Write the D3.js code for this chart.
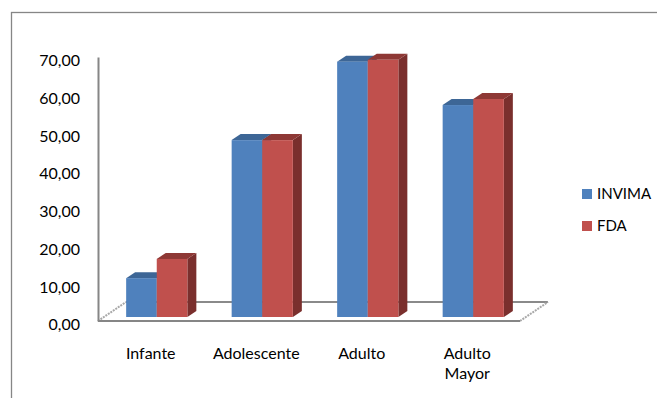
<!DOCTYPE html>
<html>
<head>
<meta charset="utf-8">
<script src="https://cdn.jsdelivr.net/npm/d3@7"></script>
<style>
  html, body { margin: 0; padding: 0; background: #fff; }
  svg { display: block; }
  text { font-family: Lato, "Noto Sans", sans-serif; fill: #000; }
</style>
</head>
<body>
<svg id="chart" width="657" height="398"></svg>
<script>
// ---- data ----
const categories = ["Infante", "Adolescente", "Adulto", "Adulto Mayor"];
const seriesNames = ["INVIMA", "FDA"];
const invima = [10.3, 46.9, 67.7, 56.2];
const fda = [15.4, 46.9, 68.2, 57.8];
const yTicks = [0, 10, 20, 30, 40, 50, 60, 70];

// ---- styles ----
const colors = {
  INVIMA: { front: "#4F81BD", top: "#3D6696", side: "#2F5078" },
  FDA:    { front: "#C0504D", top: "#8E3835", side: "#7A2F2D" }
};
const fontSize = 16;

const svg = d3.select("#chart");

// outer chart border (extends beyond the window on the right/bottom)
svg.append("rect")
  .attr("x", 11.5).attr("y", 12.5)
  .attr("width", 700).attr("height", 500)
  .attr("fill", "none").attr("stroke", "#868686").attr("stroke-width", 1.3);

// plot geometry
const floorLeft = 98, floorRight = 520;
const y = d3.scaleLinear().domain([0, 70]).range([321, 57]);
const depthX = 28, depthY = 19;           // full floor depth
const barOffX = 6, barOffY = 4;           // bar front plane offset
const barDX = 9, barDY = 6;               // bar depth

const x0 = d3.scaleBand().domain(categories).range([floorLeft, floorRight])
  .paddingInner(0.42).paddingOuter(0.21);
const x1 = d3.scaleBand().domain(seriesNames).range([0, x0.bandwidth()]);

// floor
const floor = svg.append("g");
floor.append("line")
  .attr("x1", floorLeft + depthX).attr("y1", y(0) - depthY)
  .attr("x2", floorRight + depthX).attr("y2", y(0) - depthY)
  .attr("stroke", "#8a8a8a").attr("stroke-width", 2);
floor.append("line")
  .attr("x1", floorLeft).attr("y1", y(0))
  .attr("x2", floorLeft + depthX).attr("y2", y(0) - depthY)
  .attr("stroke", "#a8a8a8").attr("stroke-width", 2).attr("stroke-dasharray", "2,1");
floor.append("line")
  .attr("x1", floorRight).attr("y1", y(0))
  .attr("x2", floorRight + depthX).attr("y2", y(0) - depthY)
  .attr("stroke", "#a8a8a8").attr("stroke-width", 2).attr("stroke-dasharray", "2,1");

// bars
const rows = categories.map((c, i) => ({ cat: c, vals: [
  { s: "INVIMA", v: invima[i] }, { s: "FDA", v: fda[i] } ] }));

const gBars = svg.append("g");
rows.forEach(r => {
  r.vals.forEach(d => {
    const bx = x0(r.cat) + x1(d.s) + barOffX;
    const bw = x1.bandwidth();
    const yt = y(d.v) - barOffY;
    const yb = y(0) - barOffY;
    const col = colors[d.s];
    // side
    gBars.append("path")
      .attr("d", `M${bx + bw},${yt} L${bx + bw + barDX},${yt - barDY} L${bx + bw + barDX},${yb - barDY} L${bx + bw},${yb} Z`)
      .attr("fill", col.side);
    // top
    gBars.append("path")
      .attr("d", `M${bx},${yt} L${bx + barDX},${yt - barDY} L${bx + bw + barDX},${yt - barDY} L${bx + bw},${yt} Z`)
      .attr("fill", col.top);
    // front
    gBars.append("rect")
      .attr("x", bx).attr("y", yt).attr("width", bw).attr("height", yb - yt)
      .attr("fill", col.front);
  });
});

// front floor edge (drawn over bars' base)
floor.clone(false);
svg.append("line")
  .attr("x1", floorLeft).attr("y1", y(0))
  .attr("x2", floorRight).attr("y2", y(0))
  .attr("stroke", "#868686").attr("stroke-width", 2);

// y axis
const yAxis = d3.axisLeft(y).tickValues(yTicks).tickSize(0).tickPadding(18)
  .tickFormat(d => d3.format(".2f")(d).replace(".", ","));
const gy = svg.append("g").attr("transform", `translate(${floorLeft},0)`).call(yAxis);
gy.select(".domain").attr("stroke", "#868686").attr("stroke-width", 2);
gy.selectAll("text").attr("font-size", fontSize).attr("font-family", null)
  .attr("dy", "0.55em").attr("fill", "#000");

// x axis labels
const xAxis = d3.axisBottom(x0).tickSize(0).tickPadding(0).tickFormat("");
const gx = svg.append("g").attr("transform", `translate(0,${y(0)})`).call(xAxis);
gx.select(".domain").remove();
gx.selectAll(".tick").each(function(d) {
  const words = d === "Adulto Mayor" ? ["Adulto", "Mayor"] : [d];
  const t = d3.select(this).append("text")
    .attr("text-anchor", "middle").attr("font-size", fontSize).attr("fill", "#000");
  words.forEach((w, i) => {
    t.append("tspan").attr("x", 0).attr("y", 32 + i * 20).attr("dy", "0.35em").text(w);
  });
});

// legend
const legend = svg.append("g");
seriesNames.forEach((s, i) => {
  const g = legend.append("g").attr("transform", `translate(582,${194 + i * 32})`);
  g.append("rect").attr("x", 0).attr("y", -5).attr("width", 10).attr("height", 10)
    .attr("fill", colors[s].front);
  g.append("text").attr("x", 15).attr("y", 0).attr("dy", "0.35em")
    .attr("font-size", fontSize - 1).text(s);
});
</script>
</body>
</html>
